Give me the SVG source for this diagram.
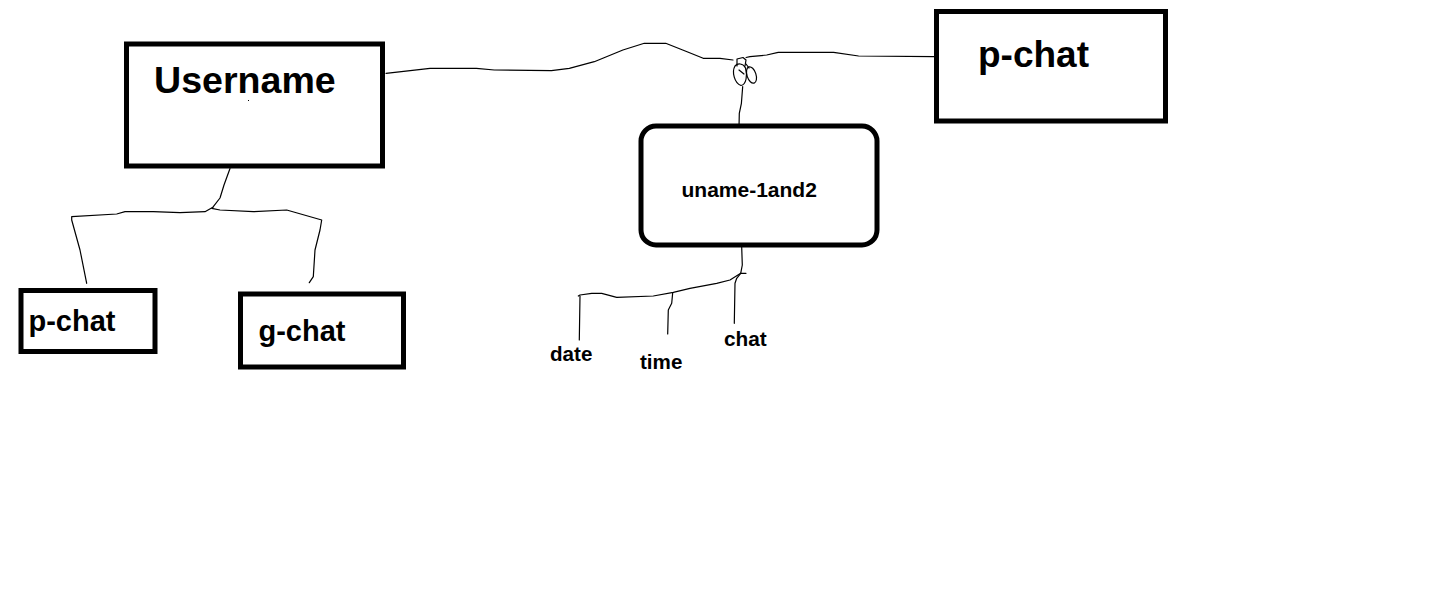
<svg xmlns="http://www.w3.org/2000/svg" width="1430" height="614" viewBox="0 0 1430 614">
<style>
.box{fill:#fff;stroke:#000;stroke-width:5}
.lbl{font-family:"Liberation Sans",Arial,sans-serif;font-weight:bold;fill:#000}
.ln{fill:none;stroke:#000;stroke-width:1.2;stroke-linejoin:round;stroke-linecap:round}
</style>
<rect width="1430" height="614" fill="#fff"/>
<g id="connectors">
<path class="ln" d="M386,73.3 L430,68.3 L476.4,68.3 L494.3,70 L551.4,70.7 L569.3,68.3 L594.3,61.7 L622.9,50 L644.3,43.3 L665.7,43.3 L687.1,51.7 L703.2,58.3 L720,58.3 L733,60"/>
<path class="ln" d="M746,57.5 L750,56.7 L766.7,55 L778.2,52.3 L833.6,52.3 L858.6,56 L934,56.7"/>
<path class="ln" d="M737,66 L737,59 L743,57.5 L746,60 L745,66"/>
<path class="ln" d="M735,66 C731.5,72 734.5,83 741,85.5 C746.5,84.5 747.5,75 745.5,68 C743,63 737.5,63 735,66 Z"/>
<ellipse class="ln" cx="751.5" cy="75" rx="4.5" ry="8.5" transform="rotate(-18 751.5 75)"/>
<path class="ln" d="M739,70 L744,74 M746,64 L749,68"/>
<path class="ln" d="M742.7,86.5 L741.4,103.3 L739.3,113.3 L739,128"/>
<path class="ln" d="M230,168.5 L224,185 L220,198 L213.3,206.7"/>
<path class="ln" d="M213.3,207 L205,211.7 L180,212.7 L153.3,211.7 L125,211.7 L116.7,214 L71.7,216.7 L71.7,220 L80,250 L86.7,283.3"/>
<path class="ln" d="M211.7,208.3 L220,210 L253.3,211.7 L286.7,210 L321.7,220 L320,230 L315,250 L313.3,276.7 L309.3,282.7"/>
<path class="ln" d="M741.7,247.3 L742.3,265 L740.7,273.3 L746,273.3"/>
<path class="ln" d="M740.7,273.3 L736.7,278.3 L735,283.3 L734.3,323.3"/>
<path class="ln" d="M740.7,273.3 L730,280 L716.7,283.3 L690,288.3 L673.3,292.3 L653.3,296 L616.7,297.3 L601.7,293.3 L591.7,293.3 L580,295 L578.3,296"/>
<path class="ln" d="M580,296 L579.3,340"/>
<path class="ln" d="M672.7,292.7 L671.7,303.3 L668.3,310 L667.7,334"/>
</g>
<g id="username">
<rect class="box" x="126.5" y="44" width="256" height="122"/>
<text class="lbl" x="154" y="93" font-size="37.6">Username</text>
<rect x="248" y="100" width="1" height="1" fill="#000"/>
</g>
<g id="pchat-left">
<rect class="box" x="21" y="290.5" width="134" height="61"/>
<text class="lbl" x="28.5" y="330.5" font-size="29">p-chat</text>
</g>
<g id="gchat">
<rect class="box" x="240.5" y="294" width="163" height="73"/>
<text class="lbl" x="258.5" y="340.5" font-size="29">g-chat</text>
</g>
<g id="pchat-right">
<rect class="box" x="936.5" y="11.5" width="229" height="109.5"/>
<text class="lbl" x="978" y="67" font-size="37">p-chat</text>
</g>
<g id="uname-1and2">
<rect class="box" x="641" y="126" width="236" height="119" rx="15" ry="15"/>
<text class="lbl" x="681.5" y="196.5" font-size="21">uname-1and2</text>
</g>
<g id="date"><text class="lbl" x="550" y="361" font-size="20.6">date</text></g>
<g id="time"><text class="lbl" x="640" y="368.5" font-size="20.6">time</text></g>
<g id="chat"><text class="lbl" x="724" y="346" font-size="20.8">chat</text></g>
</svg>
